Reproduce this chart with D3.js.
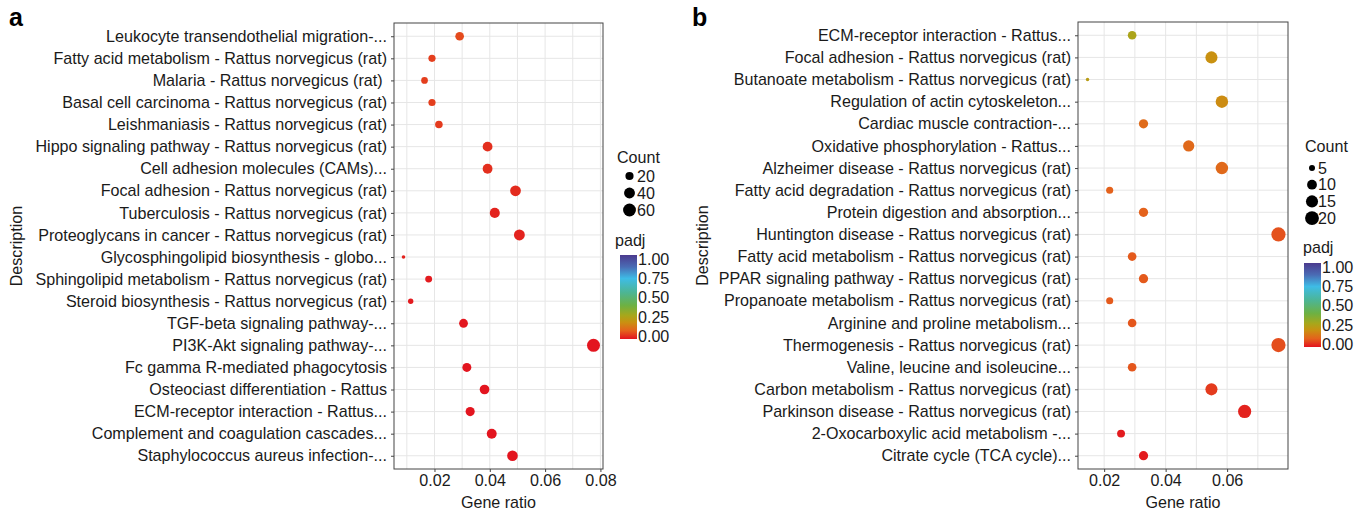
<!DOCTYPE html>
<html>
<head>
<meta charset="utf-8">
<script src="https://cdn.jsdelivr.net/npm/d3@7"></script>
<style>
  html, body { margin: 0; padding: 0; background: #fff; }
  svg text { font-family: "Liberation Sans", Arial, Helvetica, sans-serif; }
</style>
</head>
<body>
<div id="chart"></div>
<script>
// Panel a - KEGG terms (top to bottom)
const termsA = [
    "Leukocyte transendothelial migration-...",
    "Fatty acid metabolism - Rattus norvegicus (rat)",
    "Malaria - Rattus norvegicus (rat) ",
    "Basal cell carcinoma - Rattus norvegicus (rat)",
    "Leishmaniasis - Rattus norvegicus (rat)",
    "Hippo signaling pathway - Rattus norvegicus (rat)",
    "Cell adhesion molecules (CAMs)...",
    "Focal adhesion - Rattus norvegicus (rat)",
    "Tuberculosis - Rattus norvegicus (rat)",
    "Proteoglycans in cancer - Rattus norvegicus (rat)",
    "Glycosphingolipid biosynthesis - globo...",
    "Sphingolipid metabolism - Rattus norvegicus (rat)",
    "Steroid biosynthesis - Rattus norvegicus (rat)",
    "TGF-beta signaling pathway-...",
    "PI3K-Akt signaling pathway-...",
    "Fc gamma R-mediated phagocytosis",
    "Osteociast differentiation - Rattus",
    "ECM-receptor interaction - Rattus...",
    "Complement and coagulation cascades...",
    "Staphylococcus aureus infection-..."
];
const ratioA = [0.0291, 0.0191, 0.0164, 0.0191, 0.0216, 0.0392, 0.0392, 0.0493, 0.0418, 0.0507,
                0.0088, 0.0179, 0.0114, 0.0305, 0.0775, 0.0317, 0.0381, 0.0329, 0.0407, 0.0482];
const countA = [23, 15, 13, 15, 17, 31, 31, 39, 33, 40, 7, 14, 9, 24, 62, 25, 30, 26, 32, 38];
const padjA  = [0.07, 0.055, 0.055, 0.055, 0.05, 0.035, 0.035, 0.03, 0.02, 0.02,
                0.02, 0.01, 0.01, 0.005, 0.003, 0.003, 0.003, 0.003, 0.002, 0.002];

// Panel b
const termsB = [
    "ECM-receptor interaction - Rattus...",
    "Focal adhesion - Rattus norvegicus (rat)",
    "Butanoate metabolism - Rattus norvegicus (rat)",
    "Regulation of actin cytoskeleton...",
    "Cardiac muscle contraction-...",
    "Oxidative phosphorylation - Rattus...",
    "Alzheimer disease - Rattus norvegicus (rat)",
    "Fatty acid degradation - Rattus norvegicus (rat)",
    "Protein digestion and absorption...",
    "Huntington disease - Rattus norvegicus (rat)",
    "Fatty acid metabolism - Rattus norvegicus (rat)",
    "PPAR signaling pathway - Rattus norvegicus (rat)",
    "Propanoate metabolism - Rattus norvegicus (rat)",
    "Arginine and proline metabolism...",
    "Thermogenesis - Rattus norvegicus (rat)",
    "Valine, leucine and isoleucine...",
    "Carbon metabolism - Rattus norvegicus (rat)",
    "Parkinson disease - Rattus norvegicus (rat)",
    "2-Oxocarboxylic acid metabolism -...",
    "Citrate cycle (TCA cycle)..."
];
const ratioB = [0.0291, 0.0549, 0.0146, 0.0583, 0.0328, 0.0475, 0.0583, 0.0218, 0.0328, 0.0767,
                0.0291, 0.0328, 0.0218, 0.0291, 0.0767, 0.0291, 0.0549, 0.0657, 0.0255, 0.0328];
const countB = [8, 15, 4, 16, 9, 13, 16, 6, 9, 21, 8, 9, 6, 8, 21, 8, 15, 18, 7, 9];
const padjB  = [0.27, 0.2, 0.24, 0.19, 0.12, 0.115, 0.115, 0.1, 0.1, 0.08,
                0.09, 0.09, 0.09, 0.085, 0.075, 0.085, 0.05, 0.02, 0.01, 0.01];

// axis ticks and legend breaks
const xTicksA = [0.02, 0.04, 0.06, 0.08];
const xTicksB = [0.02, 0.04, 0.06];
const gridA = [0.01, 0.02, 0.03, 0.04, 0.05, 0.06, 0.07, 0.08];
const gridB = [0.02, 0.03, 0.04, 0.05, 0.06, 0.07];
const sizeBreaksA = [20, 40, 60];
const sizeBreaksB = [5, 10, 15, 20];
const padjTicks = [0, 0.25, 0.5, 0.75, 1];

// padj colour ramp
const padjStops   = [0, 0.1, 0.2, 0.28, 0.4, 0.55, 0.72, 0.86, 1];
const padjColours = ["#E3131F", "#E4621C", "#C99111", "#A7A71B", "#6DB143", "#4DB592", "#3EBCE6", "#4A6BB4", "#4B3A8E"];

const W = 1363, H = 511;
const FONT = 16.1;
const textCol = "#1a1a1a";

const colour = d3.scaleLinear().domain(padjStops).range(padjColours).interpolate(d3.interpolateRgb);

const svg = d3.select("#chart").append("svg")
    .attr("width", W).attr("height", H);

// grad for colorbar
const defs = svg.append("defs");
const grad = defs.append("linearGradient").attr("id", "padjGrad")
    .attr("x1", 0).attr("y1", 1).attr("x2", 0).attr("y2", 0);
padjStops.forEach((s, i) => {
    grad.append("stop").attr("offset", s).attr("stop-color", padjColours[i]);
});

function drawPanel(cfg) {
    const g = svg.append("g");
    const data = cfg.terms.map((t, i) => ({term: t, ratio: cfg.ratio[i], count: cfg.count[i], padj: cfg.padj[i]}));

    // ggplot-ish 5% expansion
    const ext = d3.extent(cfg.ratio);
    const pad = (ext[1] - ext[0]) * 0.05;
    const x = d3.scaleLinear().domain([ext[0] - pad, ext[1] + pad]).range([cfg.left, cfg.right]);
    const y = d3.scalePoint().domain(cfg.terms).range([cfg.top, cfg.bottom]).padding(0.6);

    const cmin = d3.min(cfg.count), cmax = d3.max(cfg.count);
    const rs = d3.scaleSqrt().domain([0, cmax - cmin]).range(cfg.rRange);
    const r = c => rs(Math.max(0, c - cmin));

    // background gridlines
    g.selectAll(".vgrid").data(cfg.grid).join("line")
        .attr("x1", d => x(d)).attr("x2", d => x(d))
        .attr("y1", cfg.top).attr("y2", cfg.bottom)
        .attr("stroke", "#E6E6E6").attr("stroke-width", 1);
    g.selectAll(".hgrid").data(cfg.terms).join("line")
        .attr("x1", cfg.left).attr("x2", cfg.right)
        .attr("y1", d => y(d)).attr("y2", d => y(d))
        .attr("stroke", "#E6E6E6").attr("stroke-width", 1);

    // points
    g.selectAll(".pt").data(data).join("circle")
        .attr("cx", d => x(d.ratio))
        .attr("cy", d => y(d.term))
        .attr("r", d => r(d.count))
        .attr("fill", d => colour(d.padj));

    // border
    g.append("rect")
        .attr("x", cfg.left).attr("y", cfg.top)
        .attr("width", cfg.right - cfg.left).attr("height", cfg.bottom - cfg.top)
        .attr("fill", "none").attr("stroke", "#444").attr("stroke-width", 1);

    // y axis
    const yAxis = d3.axisLeft(y).tickSize(3).tickPadding(4);
    const yG = g.append("g").attr("transform", `translate(${cfg.left},0)`).call(yAxis);
    yG.select(".domain").remove();
    yG.selectAll(".tick line").attr("stroke", "#444");
    yG.selectAll(".tick text")
        .attr("font-size", FONT).attr("fill", textCol)
        .style("white-space", "pre");

    // x axis
    const xAxis = d3.axisBottom(x).tickValues(cfg.xTicks).tickFormat(d3.format(".2f")).tickSize(3).tickPadding(3);
    const xG = g.append("g").attr("transform", `translate(0,${cfg.bottom})`).call(xAxis);
    xG.select(".domain").remove();
    xG.selectAll(".tick line").attr("stroke", "#444");
    xG.selectAll(".tick text").attr("font-size", FONT).attr("fill", textCol);

    // axis titles
    g.append("text")
        .attr("x", (cfg.left + cfg.right) / 2).attr("y", 508)
        .attr("text-anchor", "middle").attr("font-size", FONT).attr("fill", textCol)
        .text("Gene ratio");
    g.append("text")
        .attr("transform", `translate(${cfg.descX},${(cfg.top + cfg.bottom) / 2}) rotate(-90)`)
        .attr("text-anchor", "middle").attr("font-size", FONT).attr("fill", textCol)
        .text("Description");

    // panel letter
    g.append("text")
        .attr("x", cfg.letterX).attr("y", 26)
        .attr("font-size", 25).attr("font-weight", "bold").attr("fill", "#000")
        .text(cfg.letter);

    // size legend
    const L = cfg.legend;
    g.append("text").attr("x", L.x).attr("y", L.countY)
        .attr("font-size", FONT).attr("fill", textCol).text("Count");
    cfg.sizeBreaks.forEach((b, i) => {
        const cy = L.sizeY0 + i * L.sizeStep;
        g.append("circle").attr("cx", L.dotX).attr("cy", cy).attr("r", r(b)).attr("fill", "#000");
        g.append("text").attr("x", L.labX).attr("y", cy).attr("dy", "0.36em")
            .attr("font-size", FONT).attr("fill", textCol).text(b);
    });

    // colour legend
    g.append("text").attr("x", L.x - 2).attr("y", L.padjY)
        .attr("font-size", FONT).attr("fill", textCol).text("padj");
    g.append("rect").attr("x", L.barX).attr("y", L.barTop)
        .attr("width", 17).attr("height", L.barBottom - L.barTop)
        .attr("fill", "url(#padjGrad)");
    const cy = d3.scaleLinear().domain([0, 1]).range([L.lab0, L.lab1]);
    padjTicks.forEach(t => {
        g.append("text").attr("x", L.barX + 18).attr("y", cy(t)).attr("dy", "0.36em")
            .attr("font-size", FONT).attr("fill", textCol).text(d3.format(".2f")(t));
    });
}

drawPanel({
    letter: "a", letterX: 9,
    terms: termsA, ratio: ratioA, count: countA, padj: padjA,
    left: 394, right: 603, top: 23, bottom: 469,
    grid: gridA, xTicks: xTicksA, sizeBreaks: sizeBreaksA,
    rRange: [1.8, 6.5], descX: 22,
    legend: {x: 617, countY: 163, dotX: 629.5, labX: 637, sizeY0: 176, sizeStep: 17,
             padjY: 246, barX: 620, barTop: 255, barBottom: 339, lab0: 336, lab1: 259}
});

drawPanel({
    letter: "b", letterX: 692,
    terms: termsB, ratio: ratioB, count: countB, padj: padjB,
    left: 1078, right: 1288, top: 22, bottom: 469,
    grid: gridB, xTicks: xTicksB, sizeBreaks: sizeBreaksB,
    rRange: [1.7, 7.1], descX: 708,
    legend: {x: 1305, countY: 152, dotX: 1312, labX: 1318, sizeY0: 168, sizeStep: 16.7,
             padjY: 253, barX: 1304, barTop: 263, barBottom: 347, lab0: 344, lab1: 267}
});
</script>
</body>
</html>
